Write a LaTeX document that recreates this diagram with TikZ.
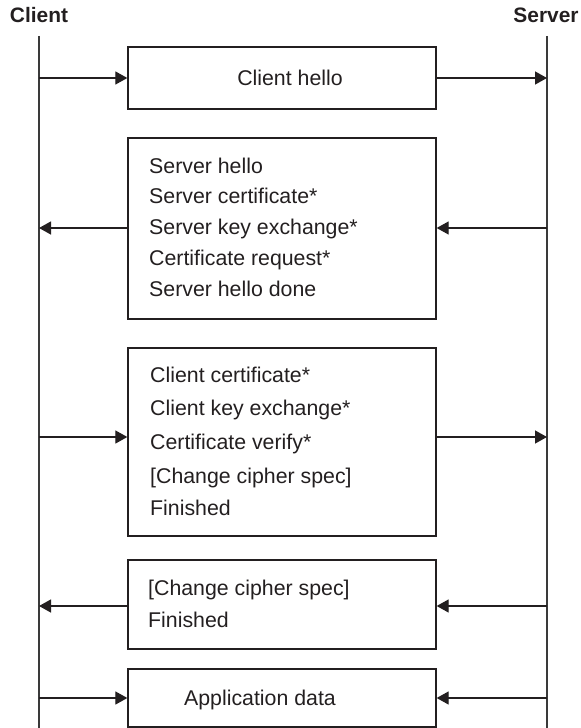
\documentclass[tikz,border=0pt]{standalone}
\usepackage{fontspec}
\setmainfont{Liberation Sans}
\usetikzlibrary{arrows.meta}
\definecolor{ink}{HTML}{231F20}
\definecolor{life}{HTML}{3A3A3A}
\tikzset{
  box/.style={draw=ink, line width=1.3bp, rectangle, inner sep=0, minimum width=308bp},
  txt/.style={text=ink, inner sep=0, anchor=west, text height=15bp, text depth=0bp, font=\fontsize{21.4}{25}\selectfont},
  ctxt/.style={txt, anchor=center},
  head/.style={text=ink, inner sep=0, text height=15bp, text depth=0bp, font=\fontsize{21}{25}\selectfont\bfseries},
  lifeline/.style={draw=life, line width=1.4bp},
  msg/.style={draw=ink, line width=1.3bp, -{Triangle[length=12bp,width=13bp]}},
}
\begin{document}
\begin{tikzpicture}[x=1bp,y=-1bp]
\useasboundingbox (0,0) rectangle (581,728);
% headers
\node[head] (client) at (39,15) {Client};
\node[head] (server) at (546,15) {Server};
% lifelines
\coordinate (ctop) at (39,36);
\coordinate (cbot) at (39,728);
\coordinate (stop) at (547,36);
\coordinate (sbot) at (547,728);
\draw[lifeline] (ctop) -- (cbot);
\draw[lifeline] (stop) -- (sbot);
% boxes
\node[box, minimum height=62bp] (b1) at (282,78) {};
\node[box, minimum height=181bp] (b2) at (282,228.5) {};
\node[box, minimum height=188bp] (b3) at (282,442) {};
\node[box, minimum height=89bp] (b4) at (282,604.5) {};
\node[box, minimum height=58bp] (b5) at (282,698) {};
% texts
\node[ctxt] (t1) at (290,78) {Client hello};
\node[txt] (t21) at (149,165.5) {Server hello};
\node[txt] (t22) at (149,196) {Server certificate*};
\node[txt] (t23) at (149,227) {Server key exchange*};
\node[txt] (t24) at (149,258) {Certificate request*};
\node[txt] (t25) at (149,289) {Server hello done};
\node[txt] (t31) at (150,375) {Client certificate*};
\node[txt] (t32) at (150,408) {Client key exchange*};
\node[txt] (t33) at (150,442) {Certificate verify*};
\node[txt] (t34) at (150,476) {[Change cipher spec]};
\node[txt] (t35) at (150,508) {Finished};
\node[txt] (t41) at (148,588) {[Change cipher spec]};
\node[txt] (t42) at (148,620) {Finished};
\node[ctxt] (t5) at (260,698) {Application data};
% message arrow levels
\coordinate (c1) at (39,78);   \coordinate (s1) at (547,78);
\coordinate (c2) at (39,228);  \coordinate (s2) at (547,228);
\coordinate (c3) at (39,437);  \coordinate (s3) at (547,437);
\coordinate (c4) at (39,606);  \coordinate (s4) at (547,606);
\coordinate (c5) at (39,698);  \coordinate (s5) at (547,698);
% arrows
\draw[msg] (c1) -- (c1 -| b1.west);
\draw[msg] (s1 -| b1.east) -- (s1);
\draw[msg] (s2) -- (s2 -| b2.east);
\draw[msg] (c2 -| b2.west) -- (c2);
\draw[msg] (c3) -- (c3 -| b3.west);
\draw[msg] (s3 -| b3.east) -- (s3);
\draw[msg] (s4) -- (s4 -| b4.east);
\draw[msg] (c4 -| b4.west) -- (c4);
\draw[msg] (c5) -- (c5 -| b5.west);
\draw[msg] (s5) -- (s5 -| b5.east);
\end{tikzpicture}
\end{document}
